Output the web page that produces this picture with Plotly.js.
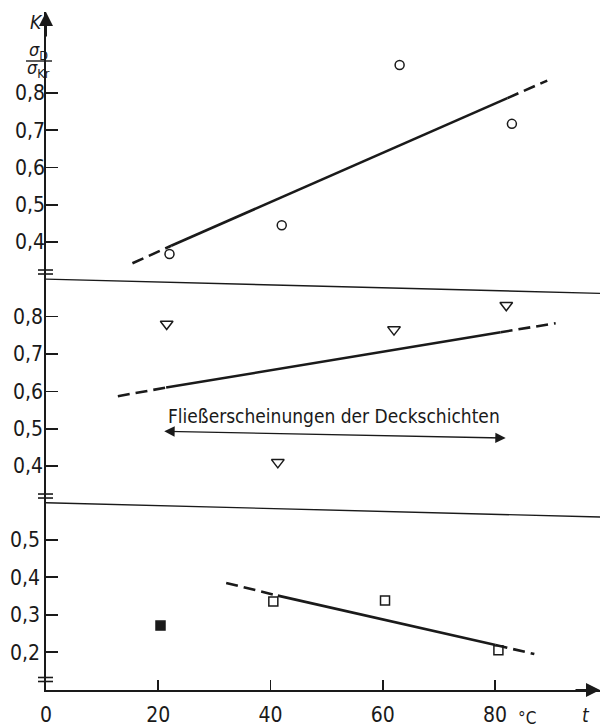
<!DOCTYPE html>
<html><head><meta charset="utf-8">
<script src="https://cdn.plot.ly/plotly-3.0.1.min.js"></script>
<style>html,body{margin:0;padding:0;background:#fff}#c{width:602px;height:728px}</style>
</head><body><div id="c"></div>
<script>
// ---- data ----
const tTop = [22, 42, 63, 83];
const kTop = [0.368, 0.445, 0.875, 0.717];
const tMid = [21.5, 41.3, 62, 82];
const kMid = [0.78, 0.41, 0.765, 0.83];
const tBot = [40.5, 60.4, 80.6];
const kBot = [0.335, 0.338, 0.205];
const tBotFilled = [20.4];
const kBotFilled = [0.271];
// fit lines: dashed start, solid start, solid end, dashed end
const fitTopT = [15.4, 22.3, 82.2, 89.3];
const fitTopK = [0.343, 0.39, 0.786, 0.833];
const fitMidT = [12.8, 21.4, 81, 90.8];
const fitMidK = [0.587, 0.61, 0.758, 0.782];
const fitBotT = [32.1, 41.3, 80.1, 87];
const fitBotK = [0.385, 0.351, 0.219, 0.195];
// flow region arrow
const flowT = [20.8, 81.9];
const flowK = [0.493, 0.475];
const flowLabel = 'Fließerscheinungen der Deckschichten';
const xTicks = [0, 20, 40, 60, 80];
const yTicksTop = [0.4, 0.5, 0.6, 0.7, 0.8];
const yTicksMid = [0.4, 0.5, 0.6, 0.7, 0.8];
const yTicksBot = [0.2, 0.3, 0.4, 0.5];

const FONT = 'DejaVu Sans Condensed, Liberation Sans Narrow, DejaVu Sans, sans-serif';
const INK = '#1a1a1a';

function seg(tx, ky, i, j, dash, ya) {
  return {x: tx.slice(i, j + 1), y: ky.slice(i, j + 1), xaxis: 'x', yaxis: ya, mode: 'lines',
    line: {color: INK, width: 2.6, dash: dash}, hoverinfo: 'skip', showlegend: false};
}
function fit(tx, ky, ya) {
  return [seg(tx, ky, 0, 1, '12px,6px', ya), seg(tx, ky, 1, 2, 'solid', ya), seg(tx, ky, 2, 3, '12px,6px', ya)];
}
function pts(tx, ky, sym, size, ya, color) {
  return {x: tx, y: ky, xaxis: 'x', yaxis: ya, mode: 'markers', showlegend: false,
    marker: {symbol: sym, size: size, color: color || INK, line: {color: INK, width: 1.5}}};
}

const data = [
  ...fit(fitTopT, fitTopK, 'y3'),
  ...fit(fitMidT, fitMidK, 'y2'),
  ...fit(fitBotT, fitBotK, 'y'),
  pts(tTop, kTop, 'circle-open', 9, 'y3'),
  pts(tMid, kMid, 'triangle-down-open', 11, 'y2'),
  pts(tBot, kBot, 'square-open', 9, 'y'),
  pts(tBotFilled, kBotFilled, 'square', 9, 'y'),
];

function yax(domain, range, ticks, standoff) {
  return {domain: domain, range: range, anchor: 'x', tickvals: ticks, tickformat: '.1f',
    ticks: 'inside', ticklen: 12, tickwidth: 1.6, tickcolor: INK, showline: true, linecolor: INK,
    linewidth: 1.8, showgrid: false, zeroline: false, ticklabelstandoff: standoff,
    tickfont: {family: FONT, size: 21, color: INK}, fixedrange: true};
}
function brk(yp) {
  return [-2, 2].map(d => ({type: 'line', xref: 'paper', yref: 'paper', xsizemode: 'pixel', xanchor: 0,
    ysizemode: 'pixel', yanchor: yp, x0: -8, x1: 7, y0: d, y1: d, line: {color: INK, width: 1.6}}));
}
function lbl(text, xs, ys, size) {
  return {xref: 'paper', yref: 'paper', x: 0, y: 1, xshift: xs, yshift: ys, xanchor: 'center', yanchor: 'middle',
    text: text, showarrow: false, font: {family: FONT, size: size, color: INK}};
}

const layout = {
  width: 602, height: 728, paper_bgcolor: '#fff', plot_bgcolor: '#fff',
  margin: {l: 46, r: 2, t: 12, b: 38}, separators: ', ', showlegend: false,
  font: {family: FONT, color: INK},
  xaxis: {range: [0, 98.7], anchor: 'y', tickvals: xTicks, ticks: 'inside', ticklen: 10, tickwidth: 1.6,
    tickcolor: INK, showline: true, linecolor: INK, linewidth: 1.8, showgrid: false, zeroline: false,
    ticklabelstandoff: 5, tickfont: {family: FONT, size: 21, color: INK}, fixedrange: true},
  yaxis: yax([0, 0.2861], [0.099, 0.617], yTicksBot, 0),
  yaxis2: yax([0.2861, 0.6165], [0.32, 0.919], yTicksMid, -3),
  yaxis3: yax([0.6165, 1], [0.3196, 1.017], yTicksTop, -5),
  shapes: [
    {type: 'line', xref: 'paper', yref: 'y2', x0: 0, x1: 1, y0: 0.9, y1: 0.862, line: {color: INK, width: 1.4}},
    {type: 'line', xref: 'paper', yref: 'y', x0: 0, x1: 1, y0: 0.599, y1: 0.561, line: {color: INK, width: 1.4}},
    {type: 'line', xref: 'paper', yref: 'paper', xsizemode: 'pixel', xanchor: 0, ysizemode: 'pixel', yanchor: 1,
      x0: -20, x1: 6, y0: -49, y1: -49, line: {color: INK, width: 1.4}},
    ...brk(0.6165), ...brk(0.2861), ...brk(0.0155)
  ],
  annotations: [
    {xref: 'paper', yref: 'paper', x: 0, y: 1, ax: 0, ay: 26, text: '', showarrow: true,
      arrowhead: 2, arrowsize: 1.4, arrowwidth: 2, arrowcolor: INK},
    {xref: 'paper', yref: 'paper', x: 1, y: 0, ax: -26, ay: 0, text: '', showarrow: true,
      arrowhead: 2, arrowsize: 1.4, arrowwidth: 2, arrowcolor: INK},
    {xref: 'x', yref: 'y2', axref: 'x', ayref: 'y2', x: flowT[1], y: flowK[1], ax: flowT[0], ay: flowK[0],
      text: '', showarrow: true, arrowside: 'end+start', arrowhead: 2, arrowsize: 1.6, arrowwidth: 1.3, arrowcolor: INK},
    {xref: 'x', yref: 'y2', x: (flowT[0] + flowT[1]) / 2, y: flowK[0], yshift: 15, text: flowLabel, showarrow: false,
      font: {family: FONT, size: 19, color: INK}},
    lbl('<i>K</i>', -10, -10, 19),
    lbl('<i>σ</i><sub>D</sub>', -8, -39, 18),
    lbl('<i>σ</i><sub>Kr</sub>', -8, -57, 18),
    {xref: 'paper', yref: 'paper', x: 0.869, y: 0, yshift: -28, xanchor: 'center', yanchor: 'middle', text: '°C',
      showarrow: false, font: {family: FONT, size: 17, color: INK}},
    {xref: 'paper', yref: 'paper', x: 0.975, y: 0, yshift: -25, xanchor: 'center', yanchor: 'middle', text: '<i>t</i>',
      showarrow: false, font: {family: FONT, size: 19, color: INK}}
  ]
};
Plotly.newPlot('c', data, layout, {staticPlot: true, displayModeBar: false});
</script></body></html>
